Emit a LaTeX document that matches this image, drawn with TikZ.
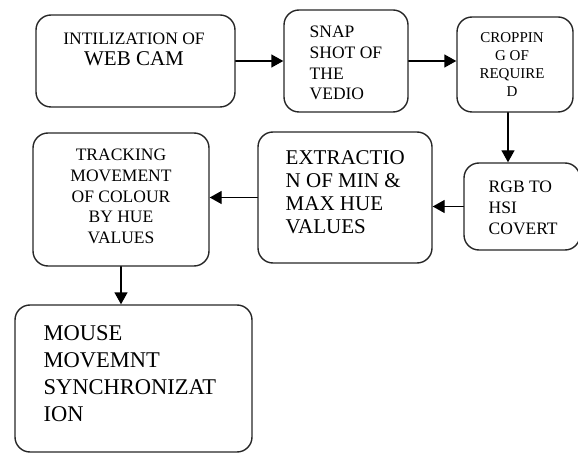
\documentclass[tikz,border=0pt]{standalone}
\usepackage{fontspec}
\setmainfont{Liberation Serif}
\usetikzlibrary{arrows.meta}

\begin{document}
\begin{tikzpicture}[
    x=1pt, y=-1pt,
    line width=1.4pt,
    line cap=round,
    line join=round,
    blk/.style={draw=black!85, rounded corners=15pt, inner sep=0pt},
    txt/.style={inner sep=0pt, font=\fontsize{17.5}{20.7}\selectfont},
    arr/.style={-{Triangle[length=12pt,width=13pt]}}
]
\useasboundingbox (0,0) rectangle (578,454);

% 1. Top row
\node[blk, minimum width=199pt, minimum height=92pt] (cam) at (135.5,61) {};
\node[txt, anchor=north, align=center] (camtxt) at (134,32.5)
    {INTILIZATION OF\\{\fontsize{21}{22}\selectfont WEB CAM}};
\node[blk, minimum width=124pt, minimum height=102pt] (snap) at (346,61) {};
\node[txt, anchor=north west, align=left] (snaptxt) at (309,25.5)
    {SNAP\\SHOT OF\\THE\\VEDIO};
\node[blk, minimum width=116pt, minimum height=95pt] (crop) at (515,64.5) {};
\node[txt, anchor=north, align=center, font=\fontsize{15}{18}\selectfont] (croptxt) at (512,32)
    {CROPPIN\\G OF\\REQUIRE\\D};

% 2. Middle row
\node[blk, minimum width=116pt, minimum height=87pt] (rgb) at (522,206.5) {};
\node[txt, anchor=north west, align=left] (rgbtxt) at (488,180.5)
    {RGB TO\\HSI\\COVERT};
\node[blk, minimum width=174pt, minimum height=131pt] (ext) at (345,197.5) {};
\node[txt, anchor=north west, align=left, font=\fontsize{21}{23}\selectfont] (exttxt) at (285,150)
    {EXTRACTIO\\N OF MIN \&\\MAX HUE\\VALUES};
\node[blk, minimum width=176pt, minimum height=133pt] (trk) at (121,199.5) {};
\node[txt, anchor=north, align=center] (trktxt) at (121,148.5)
    {TRACKING\\MOVEMENT\\OF COLOUR\\BY HUE\\VALUES};

% 3. Bottom row
\node[blk, minimum width=237pt, minimum height=147pt] (mouse) at (133.5,378.5) {};
\node[txt, anchor=north west, align=left, font=\fontsize{22.5}{27}\selectfont] (mousetxt) at (43,325)
    {MOUSE\\MOVEMNT\\SYNCHRONIZAT\\ION};

% 4. Routing
\draw[arr] (cam.east) -- (snap.west);
\draw[arr] (snap.east) -- (snap.east -| crop.west);
\draw[arr] ([xshift=-7pt]crop.south) -- ([xshift=-7pt]crop.south |- rgb.north);
\draw[arr] (rgb.west) -- (rgb.west -| ext.east);
\draw[arr] (ext.west) -- (ext.west -| trk.east);
\draw[arr] (trk.south) -- (trk.south |- mouse.north);
\end{tikzpicture}
\end{document}
